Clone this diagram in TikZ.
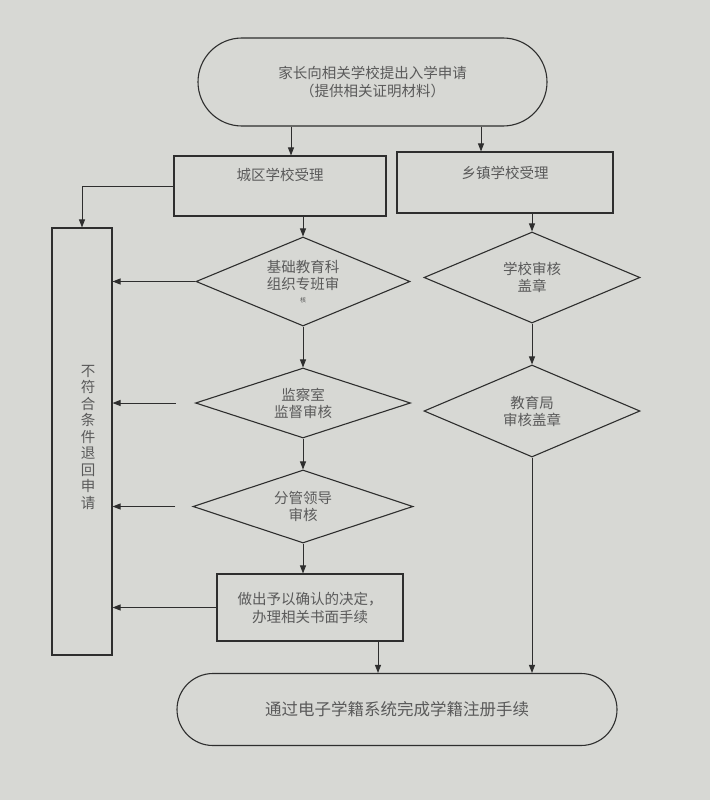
\documentclass[tikz,border=0pt]{standalone}
\usepackage{fontspec}
\newfontfamily\cjk{Noto Sans CJK SC}
\usetikzlibrary{shapes.geometric,arrows.meta}
\definecolor{bgc}{HTML}{D7D8D4}
\definecolor{linec}{HTML}{2E2E2E}
\definecolor{textc}{HTML}{5A5A5A}
\begin{document}
\begin{tikzpicture}[x=1pt,y=-1pt,
  shapeline/.style={draw=linec, line width=1.1pt},
  txt/.style={text=textc, font=\cjk\fontsize{14.5}{18}\selectfont, align=center},
  boxnode/.style={shapeline, rectangle, inner sep=0pt},
  stad/.style={shapeline, rectangle, inner sep=0pt, txt},
  dia/.style={shapeline, diamond, inner sep=0pt, txt, font=\cjk\fontsize{14.5}{17}\selectfont},
  arr/.style={draw=linec, line width=0.9pt, -{Triangle[length=8pt,width=6pt]}},
]
\fill[bgc] (0,0) rectangle (710,800);
\useasboundingbox (0,0) rectangle (710,800);

% nodes
\node[stad, minimum width=349, minimum height=88, rounded corners=44pt] (top) at (372.5,82)
  {家长向相关学校提出入学申请\\（提供相关证明材料）};

\node[boxnode, minimum width=212, minimum height=60] (cq) at (280,186) {};
\node[txt] (cqt) at ([yshift=11pt]cq.center) {城区学校受理};

\node[boxnode, minimum width=216, minimum height=61] (xq) at (505,182.5) {};
\node[txt] (xqt) at ([yshift=10pt]xq.center) {乡镇学校受理};

\node[boxnode, minimum width=60, minimum height=427] (ret) at (82,441.5) {};
\node[txt, font=\cjk\fontsize{14.5}{16.5}\selectfont] (rett) at (88,437)
  {不\\符\\合\\条\\件\\退\\回\\申\\请};

\node[dia, aspect=2.4, minimum width=214, minimum height=89] (d1) at (303,281.5)
  {基础教育科\\组织专班审\\[-4pt]{\fontsize{6}{6}\selectfont 核}};
\node[dia, aspect=2.4, minimum width=216, minimum height=91] (rd1) at (532,277.5)
  {学校审核\\盖章};
\node[dia, aspect=3.07, minimum width=215, minimum height=70] (d2) at (303,403)
  {监察室\\监督审核};
\node[dia, aspect=2.35, minimum width=216, minimum height=92] (rd2) at (532,411)
  {教育局\\审核盖章};
\node[dia, aspect=3.0, minimum width=220, minimum height=73] (d3) at (303,506.5)
  {分管领导\\审核};

\node[boxnode, txt, minimum width=186, minimum height=67] (fb) at (310,607.5)
  {做出予以确认的决定，\\办理相关书面手续};

\node[stad, minimum width=440, minimum height=72, rounded corners=36pt,
  font=\cjk\fontsize{16.5}{20}\selectfont] (bot) at (397,709.5)
  {通过电子学籍系统完成学籍注册手续};

% helper coordinates
\coordinate (cx1) at (291,0);
\coordinate (cx2) at (481,0);
\coordinate (cx3) at (378,0);
\coordinate (g2) at ([xshift=-19pt]d2.west);
\coordinate (g3) at ([xshift=-17pt]d3.west);

% connectors
\draw[arr] (top.south -| cx1) -- (cq.north -| cx1);
\draw[arr] (top.south -| cx2) -- (xq.north -| cx2);
\draw[arr] (cq.west) -| (ret.north);
\draw[arr] (cq.south -| d1.north) -- (d1.north);
\draw[arr] (xq.south -| rd1.north) -- (rd1.north);
\draw[arr] (d1.south) -- (d2.north);
\draw[arr] (d2.south) -- (d3.north);
\draw[arr] (d3.south) -- (d3.south |- fb.north);
\draw[arr] (rd1.south) -- (rd2.north);
\draw[arr] (rd2.south) -- (rd2.south |- bot.north);
\draw[arr] (fb.south -| cx3) -- (bot.north -| cx3);

\draw[arr] (d1.west) -- (d1.west -| ret.east);
\draw[arr] (g2) -- (g2 -| ret.east);
\draw[arr] (g3) -- (g3 -| ret.east);
\draw[arr] (fb.west) -- (fb.west -| ret.east);
\end{tikzpicture}
\end{document}
